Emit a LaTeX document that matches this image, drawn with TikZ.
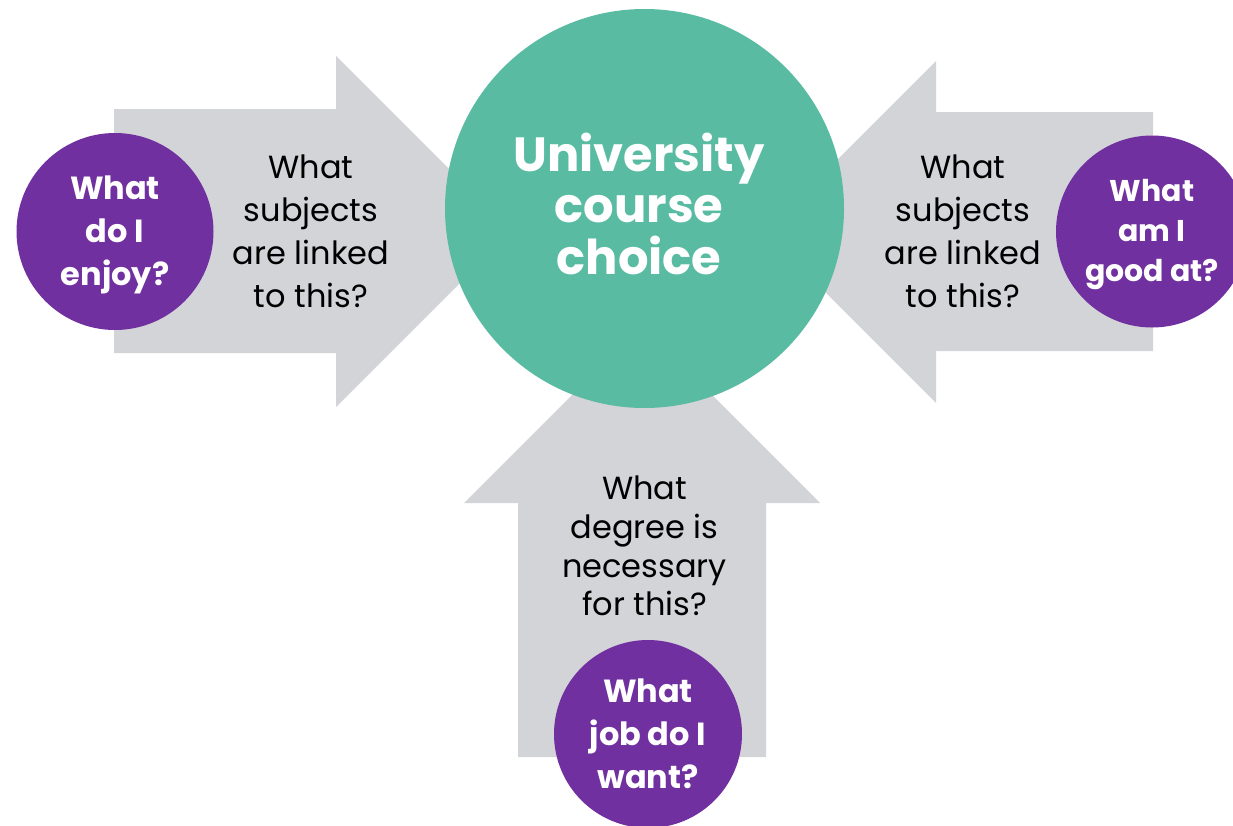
\documentclass[tikz,border=0pt]{standalone}
\usepackage{fontspec}
\setmainfont{Poppins}

\definecolor{arrowgray}{RGB}{211,212,216}
\definecolor{coursegreen}{RGB}{90,187,163}
\definecolor{askpurple}{RGB}{112,48,160}

\tikzset{
  bubble/.style={circle, fill=askpurple, inner sep=0pt},
  asktext/.style={align=center, text=white, font=\bfseries\fontsize{32}{43}\selectfont},
  prompt/.style={align=center, font=\fontsize{32}{43}\selectfont},
  headline/.style={align=center, text=white, font=\bfseries\fontsize{48}{51.5}\selectfont}
}

\begin{document}
\begin{tikzpicture}[x=1pt,y=-1pt]
        \clip (0,0) rectangle (1233,825);
        \fill[white] (0,0) rectangle (1233,825);

        \fill[arrowgray] (114,109) -- (336,109) -- (336,56) -- (511.5,231.5) -- (336,407) -- (336,353) -- (114,353) -- cycle;
        \fill[arrowgray] (1153,112) -- (936,112) -- (936,61) -- (765,232) -- (936,403) -- (936,351) -- (1153,351) -- cycle;
        \fill[arrowgray] (518,757) -- (518,503) -- (464,503) -- (642,325) -- (820,503) -- (766,503) -- (766,757) -- cycle;

        \node[circle, fill=coursegreen, inner sep=0pt, minimum size=399pt] (course) at (644.5,208.5) {};
        \node[headline] (choice) at ([shift={(-5.5,-5)}]course) {University\\course\\choice};

        \node[prompt] (linkedL) at (311,231) {What\\subjects\\are linked\\to this?};
        \node[prompt] (linkedR) at (963,231) {What\\subjects\\are linked\\to this?};
        \node[prompt, font=\fontsize{32}{38.7}\selectfont] (degree) at (644.5,546) {What\\degree is\\necessary\\for this?};

        \node[bubble, minimum size=197pt] (enjoy) at (115,231.5) {};
        \node[bubble, minimum size=192pt] (good) at (1152,231.5) {};
        \node[bubble, minimum size=188pt] (job) at (648,734) {};

        \node[asktext] (enjoyq) at ([yshift=-3pt]enjoy) {What\\do I\\enjoy?};
        \node[asktext, font=\bfseries\fontsize{30}{40}\selectfont] (goodq) at ([yshift=-3pt]good) {What\\am I\\good at?};
        \node[asktext] (jobq) at (job) {What\\job do I\\want?};
      \end{tikzpicture}
\end{document}
